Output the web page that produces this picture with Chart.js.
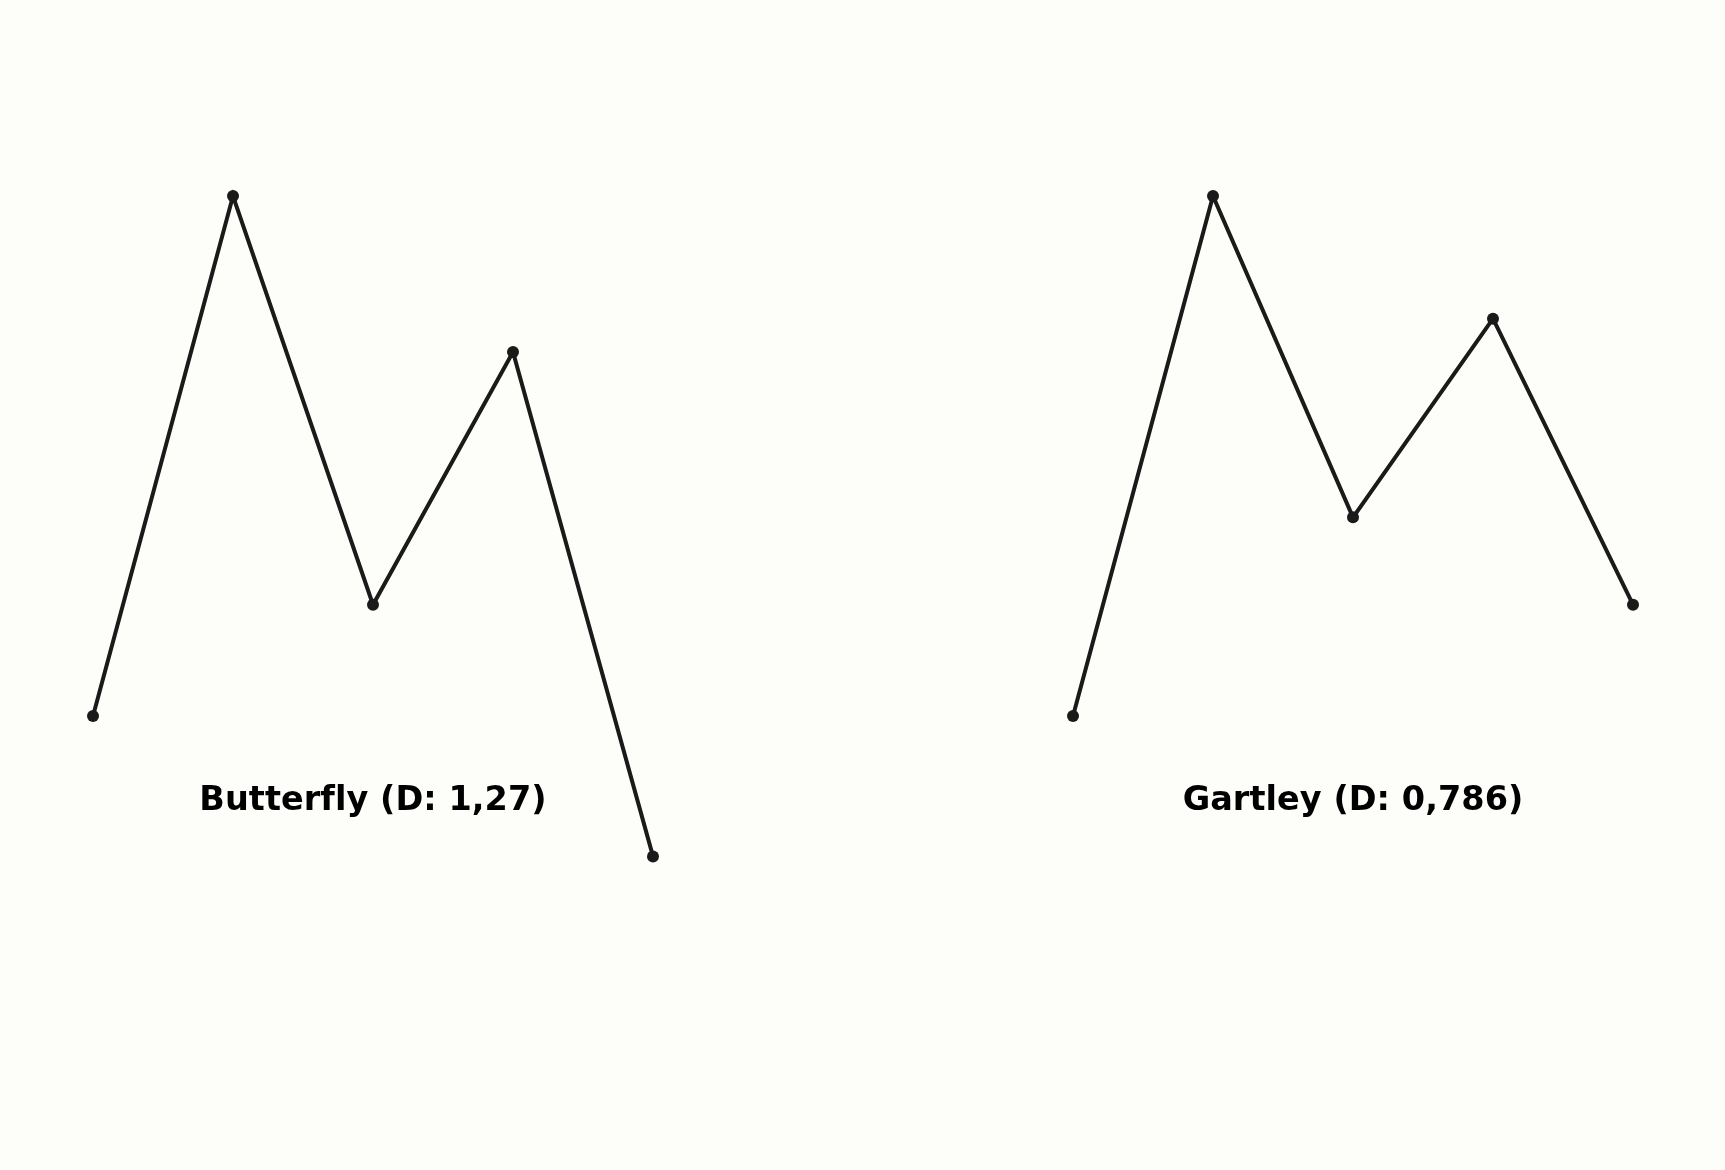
<!DOCTYPE html>
<html>
<head>
<meta charset="utf-8">
<script src="https://cdn.jsdelivr.net/npm/chart.js@4.4.1/dist/chart.umd.min.js"></script>
<style>
  html, body { margin: 0; padding: 0; background: #fdfdfa; width: 1725px; height: 1170px; overflow: hidden; }
  .panel { position: absolute; top: 0; }
</style>
</head>
<body>
<div class="panel" style="left:0px;"><canvas id="c1" width="862" height="1170"></canvas></div>
<div class="panel" style="left:980px;"><canvas id="c2" width="745" height="1170"></canvas></div>
<script>
// Pattern points (normalised: X = 0, A = 1)
const pointLabels = ['X', 'A', 'B', 'C', 'D'];
const pointIndex = [0, 1, 2, 3, 4];
const butterflyValues = [0, 1, 0.214, 0.70, -0.27];
const gartleyValues = [0, 1, 0.382, 0.764, 0.214];
const panelTitles = ['Butterfly (D: 1,27)', 'Gartley (D: 0,786)'];
const labelValueY = -0.181;

const lineColor = '#1a1a1a';

const labelPlugin = {
  id: 'patternLabel',
  afterDraw(chart, args, opts) {
    const ctx = chart.ctx;
    const xs = chart.scales.x, ys = chart.scales.y;
    ctx.save();
    ctx.font = 'bold 33.5px "DejaVu Sans"';
    if ('letterSpacing' in ctx) ctx.letterSpacing = '0.05px';
    ctx.fillStyle = '#000000';
    ctx.textAlign = 'center';
    ctx.textBaseline = 'alphabetic';
    ctx.fillText(opts.text, xs.getPixelForValue(2), ys.getPixelForValue(labelValueY));
    ctx.restore();
  }
};

function makeChart(id, values, title, rightPad) {
  const data = pointIndex.map((x, i) => ({ x: x, y: values[i], label: pointLabels[i] }));
  return new Chart(document.getElementById(id), {
    type: 'line',
    data: {
      datasets: [{
        data: data,
        borderColor: lineColor,
        backgroundColor: lineColor,
        borderWidth: 4,
        pointRadius: 6,
        pointBorderWidth: 0,
        pointBackgroundColor: lineColor,
        tension: 0,
        fill: false
      }]
    },
    options: {
      responsive: false,
      animation: false,
      events: [],
      layout: { padding: { left: 65, right: rightPad, top: 144, bottom: 246 } },
      scales: {
        x: { type: 'linear', min: -0.2, max: 4.2, display: false },
        y: { type: 'linear', min: -0.4, max: 1.1, display: false }
      },
      plugins: {
        legend: { display: false },
        tooltip: { enabled: false },
        patternLabel: { text: title }
      }
    },
    plugins: [labelPlugin]
  });
}

makeChart('c1', butterflyValues, panelTitles[0], 181);
makeChart('c2', gartleyValues, panelTitles[1], 64);
</script>
</body>
</html>
